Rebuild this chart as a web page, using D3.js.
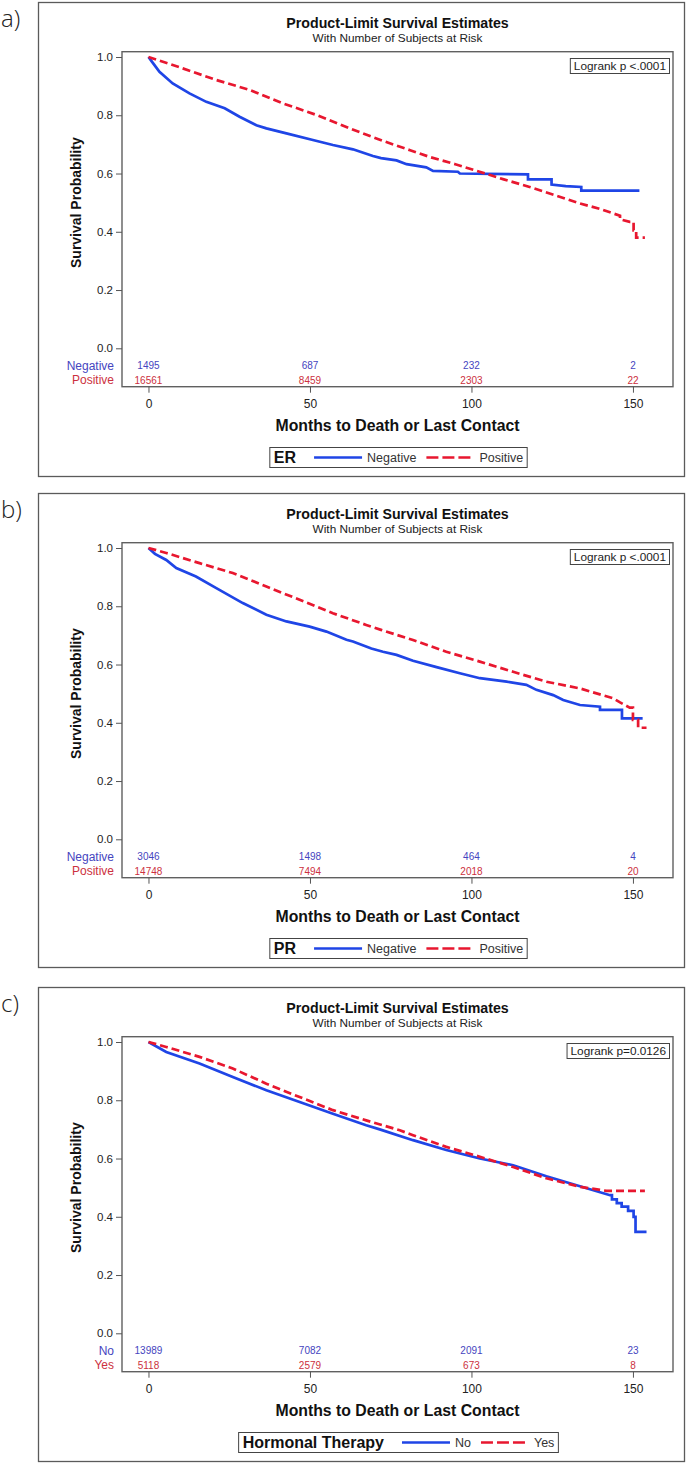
<!DOCTYPE html>
<html>
<head>
<meta charset="utf-8">
<script src="https://cdn.jsdelivr.net/npm/d3@7"></script>
<style>
  html, body { margin: 0; padding: 0; background: #fff; }
  svg { display: block; }
  text { font-family: "Liberation Sans", Arial, sans-serif; }
</style>
</head>
<body>
<svg id="chart" width="688" height="1465"></svg>
<script>
// ---------- data ----------
const tickMonths = [0, 50, 100, 150];
const yTicks = [0, 0.2, 0.4, 0.6, 0.8, 1.0];
const panelLetters = ["a)", "b)", "c)"];
const groupTitles = ["ER", "PR", "Hormonal Therapy"];
const firstLabels = ["Negative", "Negative", "No"];
const secondLabels = ["Positive", "Positive", "Yes"];
const logrankTexts = ["Logrank p <.0001", "Logrank p <.0001", "Logrank p=0.0126"];
const chartTitle = "Product-Limit Survival Estimates";
const chartSubtitle = "With Number of Subjects at Risk";
const xTitle = "Months to Death or Last Contact";
const yTitle = "Survival Probability";

// [months, survival probability]
const erNegative = [[0,1.0],[1,0.985],[3.4,0.949],[7.5,0.909],[12.7,0.875],[17.9,0.846],[23.6,0.824],[28.2,0.795],[33.4,0.766],[36.5,0.755],[42.7,0.738],[50.9,0.715],[57.1,0.698],[63.3,0.683],[69.5,0.660],[72,0.653],[76.8,0.645],[79.9,0.632],[86,0.621],[88.1,0.609],[95.8,0.606],[96.4,0.600],[117.5,0.597],[117.5,0.580],[124.8,0.580],[124.8,0.562],[129.2,0.557],[134,0.554],[134,0.541],[152,0.541]];
const erPositive = [[0,1.0],[10.6,0.961],[21,0.921],[31.3,0.887],[41.6,0.841],[52,0.801],[62.3,0.755],[72.6,0.712],[81,0.680],[87,0.657],[95,0.632],[102.5,0.606],[110,0.580],[118,0.554],[126,0.525],[133.6,0.497],[140,0.478],[143.9,0.463],[146,0.455],[146,0.443],[149,0.434],[150.2,0.434],[150.2,0.405],[151,0.405],[151,0.380],[153.7,0.380]];
const prNegative = [[0,1.0],[2,0.98],[5.5,0.959],[8.6,0.931],[14.7,0.902],[21,0.862],[29.2,0.811],[36.5,0.771],[42.7,0.748],[49.9,0.730],[55.1,0.713],[61.3,0.685],[63.3,0.679],[69,0.655],[72.6,0.644],[76.8,0.633],[81.9,0.613],[89.2,0.591],[96.4,0.570],[102.6,0.553],[110.9,0.541],[117,0.530],[120.1,0.513],[125.3,0.495],[128.4,0.478],[133.6,0.461],[139.8,0.455],[139.8,0.444],[146.6,0.444],[146.6,0.415],[153,0.415]];
const prPositive = [[0,1.0],[5.5,0.983],[15.8,0.948],[26.1,0.914],[36.5,0.868],[46.8,0.822],[57.1,0.776],[67.4,0.736],[72,0.719],[81.9,0.684],[92.2,0.644],[102.6,0.610],[112.9,0.575],[123.2,0.541],[133.6,0.518],[139,0.500],[143.9,0.484],[146,0.470],[149,0.452],[150,0.452],[150,0.410],[151.6,0.410],[151.6,0.383],[154.2,0.383]];
const htNo = [[0,1.0],[5.5,0.966],[15.8,0.926],[26.1,0.880],[36.5,0.834],[46.8,0.794],[57.1,0.754],[67.4,0.714],[71.6,0.700],[81.9,0.663],[92.2,0.629],[102.6,0.600],[112.9,0.577],[123.2,0.539],[133.6,0.505],[142.9,0.474],[143.5,0.474],[143.5,0.460],[145,0.460],[145,0.447],[146.5,0.447],[146.5,0.435],[148.5,0.435],[148.5,0.420],[150.2,0.420],[150.2,0.400],[150.8,0.400],[150.8,0.348],[154.2,0.348]];
const htYes = [[0,1.0],[5.5,0.983],[15.8,0.949],[26.1,0.909],[36.5,0.857],[46.8,0.811],[57.1,0.766],[67.4,0.731],[77.8,0.697],[81.9,0.680],[92.2,0.640],[102.6,0.606],[112.9,0.571],[123.2,0.532],[133.6,0.503],[141.8,0.489],[153.7,0.489]];

// numbers at risk at tickMonths
const erNegRisk = [1495, 687, 232, 2];
const erPosRisk = [16561, 8459, 2303, 22];
const prNegRisk = [3046, 1498, 464, 4];
const prPosRisk = [14748, 7494, 2018, 20];
const htNoRisk = [13989, 7082, 2091, 23];
const htYesRisk = [5118, 2579, 673, 8];

// ---------- styling / layout ----------
const BLUE = "#1f45e6";
const RED = "#e8172f";
const BLUE_TXT = "#4545c0";
const RED_TXT = "#cc3040";
const panelOffsets = [0, 491, 985];

const panels = [
  { first: erNegative, second: erPositive, firstRisk: erNegRisk, secondRisk: erPosRisk },
  { first: prNegative, second: prPositive, firstRisk: prNegRisk, secondRisk: prPosRisk },
  { first: htNo, second: htYes, firstRisk: htNoRisk, secondRisk: htYesRisk }
];

const svg = d3.select("#chart");

const x = d3.scaleLinear().domain([-8.2, 162.4]).range([122, 673]);

panels.forEach((p, i) => {
  const oy = panelOffsets[i];
  const g = svg.append("g");
  const y = d3.scaleLinear().domain([0, 1]).range([oy + 348.3, oy + 57]);

  // outer frame
  g.append("rect").attr("x", 38.5).attr("y", oy + 2.5).attr("width", 646).attr("height", 474)
    .attr("fill", "none").attr("stroke", "#5a5a5a").attr("stroke-width", 1.3);

  // panel letter
  g.append("text").attr("x", 1).attr("y", oy + 27).text(panelLetters[i])
    .style("font-family", "'Open Sans', 'Noto Sans', sans-serif").style("font-size", "24px")
    .style("font-weight", 300).attr("fill", "#222");

  const cx = (x.range()[0] + x.range()[1]) / 2;

  // titles
  g.append("text").attr("x", cx).attr("y", oy + 27.5).attr("text-anchor", "middle")
    .style("font-size", "14.2px").style("font-weight", "bold").attr("fill", "#111").text(chartTitle);
  g.append("text").attr("x", cx).attr("y", oy + 41.8).attr("text-anchor", "middle")
    .style("font-size", "11.8px").attr("fill", "#222").text(chartSubtitle);

  // plot frame
  g.append("rect").attr("x", 122).attr("y", oy + 51.7).attr("width", 551).attr("height", 335)
    .attr("fill", "none").attr("stroke", "#606060").attr("stroke-width", 1.4);

  // y axis
  const yAxis = d3.axisLeft(y).tickValues(yTicks).tickFormat(d3.format(".1f")).tickSize(6).tickPadding(3);
  const ya = g.append("g").attr("transform", "translate(122,0)").call(yAxis);
  ya.select(".domain").remove();
  ya.selectAll("line").attr("stroke", "#555");
  ya.selectAll("text").style("font-size", "11.5px").style("font-family", "'Liberation Sans', Arial, sans-serif").attr("fill", "#222");

  // x axis
  const xAxis = d3.axisBottom(x).tickValues(tickMonths).tickSize(6).tickPadding(7);
  const xa = g.append("g").attr("transform", `translate(0,${oy + 386.7})`).call(xAxis);
  xa.select(".domain").remove();
  xa.selectAll("line").attr("stroke", "#555");
  xa.selectAll("text").style("font-size", "12px").style("font-family", "'Liberation Sans', Arial, sans-serif").attr("fill", "#222");

  // axis titles
  g.append("text").attr("x", cx).attr("y", oy + 430.8).attr("text-anchor", "middle")
    .style("font-size", "15.8px").style("font-weight", "bold").attr("fill", "#111").text(xTitle);
  g.append("text").attr("transform", `translate(81,${y(0.5)}) rotate(-90)`).attr("text-anchor", "middle")
    .style("font-size", "14px").style("font-weight", "bold").attr("fill", "#111").text(yTitle);

  // logrank box
  const lr = g.append("g");
  const lrText = lr.append("text").attr("x", 666).attr("y", oy + 69.8).attr("text-anchor", "end")
    .style("font-size", "11.8px").attr("fill", "#222").text(logrankTexts[i]);
  const lrW = lrText.node().getComputedTextLength();
  lr.insert("rect", "text").attr("x", 666 - lrW - 3.5).attr("y", oy + 58.5).attr("width", lrW + 7).attr("height", 15)
    .attr("fill", "#fff").attr("stroke", "#444").attr("stroke-width", 1);

  // curves
  const line = d3.line().x(d => x(d[0])).y(d => y(d[1])).curve(d3.curveLinear);
  g.append("path").datum(p.first).attr("d", line).attr("fill", "none")
    .attr("stroke", BLUE).attr("stroke-width", 2.7).attr("stroke-linejoin", "miter");
  g.append("path").datum(p.second).attr("d", line).attr("fill", "none")
    .attr("stroke", RED).attr("stroke-width", 2.7).attr("stroke-dasharray", "8,4");

  // at-risk table
  g.append("text").attr("x", 114).attr("y", oy + 369.9).attr("text-anchor", "end")
    .style("font-size", "12px").attr("fill", BLUE_TXT).text(firstLabels[i]);
  g.append("text").attr("x", 114).attr("y", oy + 384.2).attr("text-anchor", "end")
    .style("font-size", "12px").attr("fill", RED_TXT).text(secondLabels[i]);
  g.selectAll(".r1").data(p.firstRisk).enter().append("text")
    .attr("x", (d, k) => x(tickMonths[k])).attr("y", oy + 369.2).attr("text-anchor", "middle")
    .style("font-size", "10px").attr("fill", BLUE_TXT).text(d => d);
  g.selectAll(".r2").data(p.secondRisk).enter().append("text")
    .attr("x", (d, k) => x(tickMonths[k])).attr("y", oy + 383.5).attr("text-anchor", "middle")
    .style("font-size", "10px").attr("fill", RED_TXT).text(d => d);

  // legend
  const lg = g.append("g");
  const ly = oy + 457.5;
  let cur = 0;
  const t0 = lg.append("text").attr("x", cur).attr("y", ly + 5.8).style("font-size", "16px")
    .style("font-weight", "bold").attr("fill", "#111").text(groupTitles[i]);
  cur += t0.node().getComputedTextLength() + 18;
  lg.append("line").attr("x1", cur).attr("x2", cur + 48).attr("y1", ly).attr("y2", ly)
    .attr("stroke", BLUE).attr("stroke-width", 2.7);
  cur += 53;
  const t1 = lg.append("text").attr("x", cur).attr("y", ly + 4.6).style("font-size", "12.5px")
    .attr("fill", "#333").text(firstLabels[i]);
  cur += t1.node().getComputedTextLength() + 10;
  lg.append("line").attr("x1", cur).attr("x2", cur + 44).attr("y1", ly).attr("y2", ly)
    .attr("stroke", RED).attr("stroke-width", 2.7).attr("stroke-dasharray", "12,4");
  cur += 53;
  const t2 = lg.append("text").attr("x", cur).attr("y", ly + 4.6).style("font-size", "12.5px")
    .attr("fill", "#333").text(secondLabels[i]);
  cur += t2.node().getComputedTextLength();
  const lw = cur + 8;
  const lx = cx - lw / 2 + 1;
  lg.attr("transform", `translate(${lx + 4},0)`);
  lg.insert("rect", ":first-child").attr("x", -4).attr("y", ly - 10).attr("width", lw).attr("height", 20)
    .attr("fill", "#fff").attr("stroke", "#444").attr("stroke-width", 1);
});
</script>
</body>
</html>
